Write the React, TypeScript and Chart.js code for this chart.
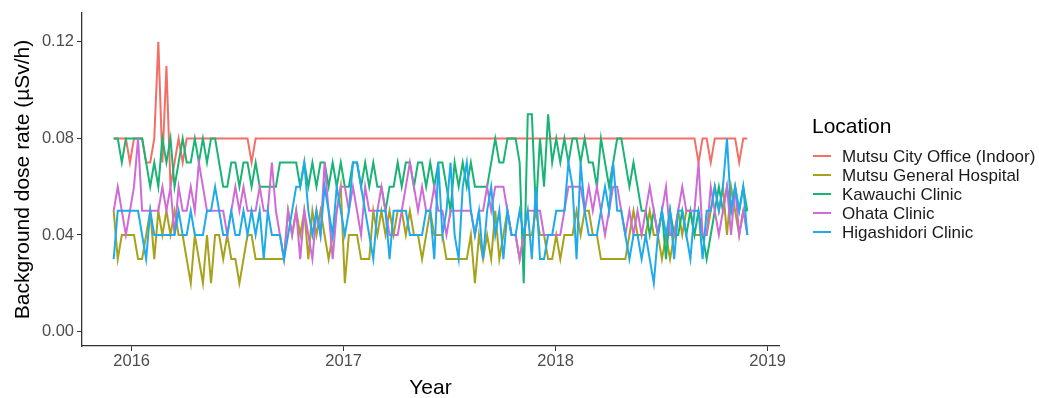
import React, { useEffect, useRef } from "react";
import { Chart, registerables } from "chart.js";

Chart.register(...registerables);

// Weekly measurements starting at this date
const startDate = "2015-12-01";

const locations = [
  "Mutsu City Office (Indoor)",
  "Mutsu General Hospital",
  "Kawauchi Clinic",
  "Ohata Clinic",
  "Higashidori Clinic",
];
const colors = ["#F26E66", "#A6A21C", "#19B473", "#CF6BD6", "#1FAAEC"];

const yTicks = [0, 0.04, 0.08, 0.12];
const xTicks = [2016, 2017, 2018, 2019];

// Background dose rate (µSv/h), one value per week
const mutsuCityOffice = [
  0.08, 0.08, 0.08, 0.08, 0.07, 0.08, 0.08, 0.08, 0.07, 0.07,
  0.08, 0.12, 0.07, 0.11, 0.06, 0.07, 0.08, 0.07, 0.08, 0.08,
  0.08, 0.08, 0.08, 0.08, 0.08, 0.08, 0.08, 0.08, 0.08, 0.08,
  0.08, 0.08, 0.08, 0.08, 0.07, 0.08, 0.08, 0.08, 0.08, 0.08,
  0.08, 0.08, 0.08, 0.08, 0.08, 0.08, 0.08, 0.08, 0.08, 0.08,
  0.08, 0.08, 0.08, 0.08, 0.08, 0.08, 0.08, 0.08, 0.08, 0.08,
  0.08, 0.08, 0.08, 0.08, 0.08, 0.08, 0.08, 0.08, 0.08, 0.08,
  0.08, 0.08, 0.08, 0.08, 0.08, 0.08, 0.08, 0.08, 0.08, 0.08,
  0.08, 0.08, 0.08, 0.08, 0.08, 0.08, 0.08, 0.08, 0.08, 0.08,
  0.08, 0.08, 0.08, 0.08, 0.08, 0.08, 0.08, 0.08, 0.08, 0.08,
  0.08, 0.08, 0.08, 0.08, 0.08, 0.08, 0.08, 0.08, 0.08, 0.08,
  0.08, 0.08, 0.08, 0.08, 0.08, 0.08, 0.08, 0.08, 0.08, 0.08,
  0.08, 0.08, 0.08, 0.08, 0.08, 0.08, 0.08, 0.08, 0.08, 0.08,
  0.08, 0.08, 0.08, 0.08, 0.08, 0.08, 0.08, 0.08, 0.08, 0.08,
  0.08, 0.08, 0.08, 0.08, 0.07, 0.08, 0.08, 0.07, 0.08, 0.08,
  0.08, 0.08, 0.08, 0.08, 0.07, 0.08, 0.08,
];

const mutsuGeneralHospital = [
  0.05, 0.03, 0.04, 0.04, 0.04, 0.04, 0.03, 0.03, 0.04, 0.05,
  0.03, 0.05, 0.04, 0.05, 0.04, 0.05, 0.04, 0.04, 0.03, 0.02,
  0.04, 0.03, 0.02, 0.04, 0.02, 0.04, 0.04, 0.03, 0.04, 0.03,
  0.03, 0.02, 0.03, 0.04, 0.04, 0.03, 0.03, 0.03, 0.03, 0.03,
  0.03, 0.03, 0.03, 0.05, 0.04, 0.05, 0.04, 0.05, 0.03, 0.05,
  0.04, 0.05, 0.04, 0.03, 0.04, 0.05, 0.06, 0.02, 0.04, 0.04,
  0.04, 0.03, 0.03, 0.03, 0.05, 0.04, 0.05, 0.04, 0.05, 0.04,
  0.05, 0.05, 0.04, 0.05, 0.04, 0.04, 0.03, 0.04, 0.05, 0.04,
  0.04, 0.04, 0.03, 0.03, 0.03, 0.03, 0.03, 0.03, 0.04, 0.02,
  0.04, 0.03, 0.04, 0.03, 0.05, 0.03, 0.04, 0.05, 0.04, 0.04,
  0.03, 0.04, 0.04, 0.04, 0.05, 0.04, 0.04, 0.03, 0.03, 0.04,
  0.03, 0.04, 0.04, 0.04, 0.05, 0.04, 0.05, 0.05, 0.04, 0.04,
  0.03, 0.03, 0.03, 0.03, 0.03, 0.03, 0.03, 0.04, 0.05, 0.04,
  0.04, 0.04, 0.05, 0.04, 0.04, 0.03, 0.04, 0.03, 0.04, 0.05,
  0.04, 0.05, 0.05, 0.04, 0.04, 0.04, 0.04, 0.05, 0.06, 0.05,
  0.06, 0.04, 0.06, 0.05, 0.04, 0.05, 0.05,
];

const kawauchiClinic = [
  0.08, 0.08, 0.07, 0.08, 0.08, 0.08, 0.08, 0.08, 0.07, 0.06,
  0.07, 0.06, 0.08, 0.07, 0.08, 0.06, 0.07, 0.08, 0.07, 0.07,
  0.08, 0.07, 0.08, 0.07, 0.08, 0.08, 0.07, 0.06, 0.06, 0.07,
  0.07, 0.06, 0.07, 0.07, 0.06, 0.07, 0.06, 0.06, 0.06, 0.06,
  0.06, 0.07, 0.07, 0.07, 0.07, 0.07, 0.06, 0.07, 0.06, 0.07,
  0.06, 0.07, 0.07, 0.06, 0.07, 0.06, 0.07, 0.06, 0.06, 0.07,
  0.07, 0.06, 0.07, 0.06, 0.07, 0.06, 0.06, 0.05, 0.06, 0.06,
  0.07, 0.06, 0.07, 0.07, 0.06, 0.07, 0.07, 0.06, 0.07, 0.06,
  0.07, 0.07, 0.06, 0.05, 0.07, 0.06, 0.07, 0.06, 0.07, 0.06,
  0.06, 0.06, 0.06, 0.07, 0.08, 0.07, 0.07, 0.08, 0.08, 0.08,
  0.07, 0.02, 0.09, 0.09, 0.05, 0.08, 0.06, 0.09, 0.07, 0.08,
  0.07, 0.08, 0.07, 0.08, 0.08, 0.07, 0.08, 0.07, 0.07, 0.06,
  0.08, 0.07, 0.06, 0.07, 0.08, 0.08, 0.07, 0.06, 0.07, 0.06,
  0.05, 0.05, 0.04, 0.05, 0.04, 0.05, 0.03, 0.05, 0.04, 0.04,
  0.05, 0.04, 0.05, 0.04, 0.05, 0.04, 0.03, 0.04, 0.05, 0.06,
  0.05, 0.06, 0.05, 0.06, 0.05, 0.06, 0.05,
];

const ohataClinic = [
  0.05, 0.06, 0.05, 0.04, 0.05, 0.06, 0.08, 0.05, 0.05, 0.05,
  0.05, 0.05, 0.06, 0.05, 0.06, 0.04, 0.06, 0.05, 0.05, 0.06,
  0.05, 0.07, 0.06, 0.05, 0.05, 0.05, 0.05, 0.05, 0.04, 0.05,
  0.06, 0.05, 0.06, 0.05, 0.05, 0.05, 0.06, 0.05, 0.05, 0.07,
  0.05, 0.04, 0.03, 0.05, 0.04, 0.05, 0.03, 0.05, 0.04, 0.03,
  0.05, 0.04, 0.07, 0.05, 0.03, 0.05, 0.06, 0.06, 0.05, 0.06,
  0.05, 0.04, 0.06, 0.05, 0.05, 0.05, 0.06, 0.05, 0.04, 0.04,
  0.04, 0.05, 0.06, 0.07, 0.06, 0.05, 0.06, 0.05, 0.05, 0.06,
  0.05, 0.05, 0.04, 0.05, 0.05, 0.05, 0.05, 0.05, 0.05, 0.04,
  0.05, 0.05, 0.06, 0.05, 0.06, 0.06, 0.06, 0.05, 0.04, 0.04,
  0.03, 0.04, 0.05, 0.05, 0.05, 0.05, 0.04, 0.04, 0.04, 0.04,
  0.04, 0.05, 0.06, 0.06, 0.06, 0.06, 0.05, 0.06, 0.05, 0.06,
  0.05, 0.04, 0.05, 0.06, 0.06, 0.05, 0.04, 0.05, 0.04, 0.05,
  0.04, 0.05, 0.06, 0.05, 0.04, 0.05, 0.06, 0.04, 0.04, 0.05,
  0.06, 0.05, 0.05, 0.05, 0.07, 0.04, 0.04, 0.06, 0.05, 0.04,
  0.05, 0.06, 0.04, 0.06, 0.04, 0.05, 0.04,
];

const higashidoriClinic = [
  0.03, 0.05, 0.05, 0.05, 0.05, 0.05, 0.05, 0.04, 0.03, 0.05,
  0.04, 0.04, 0.04, 0.04, 0.04, 0.04, 0.05, 0.04, 0.04, 0.05,
  0.04, 0.04, 0.04, 0.05, 0.05, 0.06, 0.05, 0.04, 0.04, 0.05,
  0.04, 0.04, 0.05, 0.04, 0.05, 0.04, 0.05, 0.03, 0.05, 0.04,
  0.04, 0.04, 0.03, 0.04, 0.05, 0.06, 0.06, 0.07, 0.05, 0.04,
  0.05, 0.04, 0.06, 0.05, 0.04, 0.06, 0.05, 0.04, 0.05, 0.07,
  0.07, 0.06, 0.05, 0.04, 0.03, 0.05, 0.05, 0.05, 0.03, 0.05,
  0.05, 0.05, 0.05, 0.04, 0.04, 0.04, 0.04, 0.05, 0.05, 0.03,
  0.07, 0.04, 0.05, 0.07, 0.04, 0.03, 0.06, 0.07, 0.05, 0.04,
  0.05, 0.03, 0.05, 0.06, 0.04, 0.05, 0.03, 0.05, 0.04, 0.04,
  0.05, 0.04, 0.05, 0.03, 0.06, 0.03, 0.03, 0.04, 0.04, 0.05,
  0.05, 0.05, 0.07, 0.06, 0.03, 0.07, 0.05, 0.04, 0.04, 0.04,
  0.05, 0.06, 0.05, 0.07, 0.05, 0.05, 0.04, 0.03, 0.04, 0.04,
  0.03, 0.04, 0.03, 0.02, 0.04, 0.05, 0.04, 0.05, 0.03, 0.05,
  0.05, 0.04, 0.03, 0.05, 0.05, 0.03, 0.05, 0.05, 0.06, 0.05,
  0.06, 0.08, 0.05, 0.06, 0.05, 0.06, 0.04,
];

const seriesValues = [
  mutsuCityOffice,
  mutsuGeneralHospital,
  kawauchiClinic,
  ohataClinic,
  higashidoriClinic,
];

const FONT = '"Liberation Sans", Arial, Helvetica, sans-serif';

function decimalYear(d: Date): number {
  const y = d.getUTCFullYear();
  const start = Date.UTC(y, 0, 1);
  const end = Date.UTC(y + 1, 0, 1);
  return y + (d.getTime() - start) / (end - start);
}

const legendPlugin = {
  id: "ggLegend",
  afterDraw(chart: any) {
    const { ctx, chartArea } = chart;
    const x0 = chartArea.right + 33;
    ctx.save();
    ctx.fillStyle = "#000000";
    ctx.font = `21px ${FONT}`;
    ctx.textBaseline = "alphabetic";
    ctx.textAlign = "left";
    ctx.fillText("Location", x0, 133);
    ctx.font = `17px ${FONT}`;
    ctx.textBaseline = "middle";
    locations.forEach((name, i) => {
      const y = 156 + i * 19;
      ctx.strokeStyle = colors[i];
      ctx.lineWidth = 2;
      ctx.beginPath();
      ctx.moveTo(x0 + 1, y);
      ctx.lineTo(x0 + 19, y);
      ctx.stroke();
      ctx.fillStyle = "#1a1a1a";
      ctx.fillText(name, x0 + 30, y + 1);
    });
    ctx.restore();
  },
};

export default function App() {
  const canvasRef = useRef<HTMLCanvasElement | null>(null);

  useEffect(() => {
    const canvas = canvasRef.current;
    if (!canvas) return;
    const start = new Date(startDate + "T00:00:00Z").getTime();
    const weekMs = 7 * 24 * 3600 * 1000;
    const xs = mutsuCityOffice.map((_, i) => decimalYear(new Date(start + i * weekMs)));
    const span = xs[xs.length - 1] - xs[0];

    const datasets = locations.map((name, i) => ({
      label: name,
      data: seriesValues[i].map((v, j) => ({ x: xs[j], y: v })),
      borderColor: colors[i],
      backgroundColor: colors[i],
      borderWidth: 2,
      pointRadius: 0,
      tension: 0,
      fill: false,
      order: locations.length - 1 - i,
    }));

    const chart = new Chart(canvas, {
      type: "line",
      data: { datasets },
      plugins: [legendPlugin],
      options: {
        animation: false,
        responsive: true,
        maintainAspectRatio: false,
        layout: { padding: { left: 0, top: 10, right: 260, bottom: 0 } },
        plugins: {
          legend: { display: false },
          tooltip: { enabled: false },
        },
        scales: {
          x: {
            type: "linear",
            min: xs[0] - span * 0.05,
            max: xs[xs.length - 1] + span * 0.05,
            afterBuildTicks: (s: any) => {
              s.ticks = xTicks.map((v) => ({ value: v }));
            },
            afterFit: (s: any) => {
              s.height = 52;
            },
            ticks: {
              callback: (v: any) => String(v),
              color: "#4d4d4d",
              font: { family: FONT, size: 16.5 },
              padding: 1,
              maxRotation: 0,
              autoSkip: false,
            },
            grid: {
              display: true,
              drawOnChartArea: false,
              drawTicks: true,
              tickLength: 5,
              color: "#333333",
              lineWidth: 1,
            },
            border: { display: true, color: "#333333", width: 1.3 },
            title: {
              display: true,
              text: "Year",
              color: "#000000",
              font: { family: FONT, size: 21, lineHeight: 1 },
              padding: { top: 0, bottom: -1 },
            },
          },
          y: {
            type: "linear",
            min: -0.006,
            max: 0.132,
            afterBuildTicks: (s: any) => {
              s.ticks = yTicks.map((v) => ({ value: v }));
            },
            afterFit: (s: any) => {
              s.width = 82;
            },
            ticks: {
              callback: (v: any) => Number(v).toFixed(2),
              color: "#4d4d4d",
              font: { family: FONT, size: 16.5 },
              padding: 3,
              autoSkip: false,
            },
            grid: {
              display: true,
              drawOnChartArea: false,
              drawTicks: true,
              tickLength: 5,
              color: "#333333",
              lineWidth: 1,
            },
            border: { display: true, color: "#333333", width: 1.3 },
            title: {
              display: true,
              text: "Background dose rate (µSv/h)",
              color: "#000000",
              font: { family: FONT, size: 21, lineHeight: 1 },
              padding: { top: 13, bottom: 0 },
            },
          },
        },
      },
    });

    return () => {
      chart.destroy();
    };
  }, []);

  return (
    <div
      style={{
        position: "fixed",
        left: 0,
        top: 0,
        width: "1039px",
        height: "398px",
        background: "#ffffff",
      }}
    >
      <canvas ref={canvasRef} />
    </div>
  );
}
